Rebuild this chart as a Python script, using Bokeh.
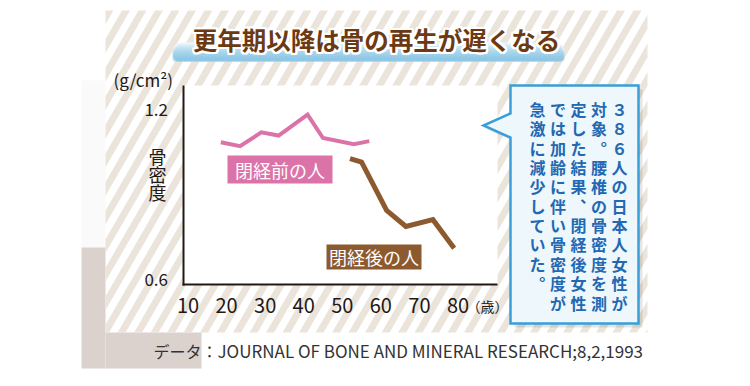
import numpy as np
from bokeh.plotting import figure
from bokeh.models import Range1d, LinearAxis, FixedTicker
from bokeh.core.properties import value
from bokeh.embed import file_html
from bokeh.resources import INLINE

# ---------------- data ----------------
ages_pre = [18.5, 23.5, 29, 33.5, 41, 45, 53, 57]
bmd_pre = [1.085, 1.071, 1.120, 1.109, 1.183, 1.100, 1.078, 1.089]
ages_post = [52, 55, 61.5, 66.5, 73.5, 79]
bmd_post = [1.027, 1.015, 0.844, 0.787, 0.811, 0.710]
x_ticks = [10, 20, 30, 40, 50, 60, 70, 80]
y_ticks = [0.6, 1.2]
title_text = "更年期以降は骨の再生が遅くなる"
unit_text = "(g/cm²)"
ylabel_chars = ["骨", "密", "度"]
xunit_text = "（歳）"
label_pre = "閉経前の人"
label_post = "閉経後の人"
note_columns = [
    "３８６人の日本人女性が",
    "対象︒腰椎の骨密度を測",
    "定した結果︑閉経後女性",
    "では加齢に伴い骨密度が",
    "急激に減少していた︒",
]
source_head = "データ："
source_body = "JOURNAL OF BONE AND MINERAL RESEARCH;8,2,1993"

# ---------------- styles ----------------
CJK = "Noto Sans CJK JP"
PINK = "#dc73a8"
BROWN = "#8c5a2e"
TITLE_BROWN = "#6b3a12"
INK = "#231815"
BLUE_LINE = "#3a9fd9"
BLUE_TEXT = "#2268b2"
STRIPE = "#ebe4da"

W, H = 750, 386
OX, OY = 0, 0
X10, XPER = 187.5, 3.857          # page x of age 10, px per year
Y12, YPER = 109.3, 169.5 / 0.6    # page y of 1.2, px per g/cm2


def age_at(px):
    return 10 + (px - X10) / XPER


def bmd_at(py):
    return 1.2 - (py - Y12) / YPER


p = figure(width=W, height=H, output_backend="svg", toolbar_location=None,
           x_range=Range1d(age_at(OX), age_at(OX + W)),
           y_range=Range1d(bmd_at(OY + H), bmd_at(OY)),
           x_axis_location=None, y_axis_location=None,
           min_border=0, outline_line_color=None,
           background_fill_color="white", border_fill_color="white")
p.grid.visible = False
p.extra_x_ranges = {"px": Range1d(OX, OX + W)}
p.extra_y_ranges = {"px": Range1d(OY + H, OY)}
PX = dict(x_range_name="px", y_range_name="px")

# ---------------- background ----------------
p.quad(left=[81], right=[105], top=[80], bottom=[247], fill_color="#fafafa", line_color=None, **PX)
p.quad(left=[81, 105], right=[105, 201], top=[247, 332], bottom=[368, 368],
       fill_color="#dbd2ce", line_color=None, **PX)

# diagonal stripes in the panel
PL, PR, PT, PB = 105, 647, 10, 332
c = 1 / np.tan(np.radians(60))
period, sw = 16.5, 8.0


def clip_poly(poly, inside, inter):
    out = []
    for i in range(len(poly)):
        cur, prev = poly[i], poly[i - 1]
        if inside(cur):
            if not inside(prev):
                out.append(inter(prev, cur))
            out.append(cur)
        elif inside(prev):
            out.append(inter(prev, cur))
    return out


def ix(a, b, xc):
    t = (xc - a[0]) / (b[0] - a[0])
    return (xc, a[1] + t * (b[1] - a[1]))


sx, sy = [], []
u = PL + PT * c - period
while u < PR + PB * c + period:
    poly = [(u - PT * c, PT), (u + sw - PT * c, PT), (u + sw - PB * c, PB), (u - PB * c, PB)]
    poly = clip_poly(poly, lambda q: q[0] >= PL, lambda a, b: ix(a, b, PL))
    if poly:
        poly = clip_poly(poly, lambda q: q[0] <= PR, lambda a, b: ix(a, b, PR))
    if len(poly) >= 3:
        sx.append([q[0] for q in poly])
        sy.append([q[1] for q in poly])
    u += period
p.patches(sx, sy, fill_color=STRIPE, line_color=None, **PX)

# white plot area
p.quad(left=[182], right=[497], top=[85], bottom=[284], fill_color="white", line_color=None, **PX)

# ---------------- title ----------------
p.quad(left=[172], right=[564], top=[42], bottom=[61], fill_color="white", line_color=None,
       border_radius=9, **PX)
for i in range(10):
    p.quad(left=[172], right=[564], top=[42 + i * 1.7], bottom=[61], fill_color="#6cb9e3",
           fill_alpha=0.13, line_color=None, border_radius=9, **PX)
tx = 376
ty = 39
angles = np.linspace(0, 2 * np.pi, 16, endpoint=False)
p.text(x=[tx] * 16, y=[ty] * 16, text=[title_text] * 16,
       x_offset=list(2.3 * np.cos(angles)), y_offset=list(2.3 * np.sin(angles)),
       text_font=value(CJK), text_font_size="24.5px", text_font_style="bold",
       text_color="white", text_align="center", text_baseline="middle", **PX)
p.text(x=[tx], y=[ty], text=[title_text], text_font=value(CJK), text_font_size="24.5px",
       text_font_style="bold", text_color=TITLE_BROWN, text_align="center",
       text_baseline="middle", **PX)

# ---------------- axes ----------------
xaxis = LinearAxis(fixed_location=bmd_at(283.5), bounds=(age_at(181.5), age_at(497)),
                   ticker=FixedTicker(ticks=x_ticks))
xaxis.axis_line_width = 2
xaxis.axis_line_color = INK
xaxis.major_tick_line_color = None
xaxis.minor_tick_line_color = None
xaxis.major_label_text_font = CJK
xaxis.major_label_text_font_size = "20px"
xaxis.major_label_text_color = INK
xaxis.major_label_standoff = 8
p.add_layout(xaxis, "below")

yaxis = LinearAxis(fixed_location=age_at(182.5), bounds=(bmd_at(284.5), bmd_at(85)),
                   ticker=FixedTicker(ticks=y_ticks))
yaxis.axis_line_width = 2
yaxis.axis_line_color = INK
yaxis.major_tick_line_color = None
yaxis.minor_tick_line_color = None
yaxis.major_label_text_font = CJK
yaxis.major_label_text_font_size = "17px"
yaxis.major_label_text_color = INK
yaxis.major_label_standoff = 9
p.add_layout(yaxis, "left")

p.text(x=[113], y=[79], text=[unit_text], text_font=value(CJK), text_font_size="17px",
       text_color=INK, text_align="left", text_baseline="middle", **PX)
p.text(x=[157] * 3, y=[155, 173, 191], text=ylabel_chars, text_font=value(CJK),
       text_font_size="18px", text_color=INK, text_align="center", text_baseline="middle", **PX)
p.text(x=[466], y=[305], text=[xunit_text], text_font=value(CJK), text_font_size="14px",
       text_color=INK, text_align="left", text_baseline="middle", **PX)

# ---------------- data lines ----------------
p.line(ages_pre, bmd_pre, line_color=PINK, line_width=4, line_join="miter")
p.line(ages_post, bmd_post, line_color=BROWN, line_width=5, line_join="miter")

# series labels
p.quad(left=[227], right=[332], top=[155], bottom=[183], fill_color=PINK, line_color=None, **PX)
p.text(x=[279.5], y=[169], text=[label_pre], text_font=value(CJK), text_font_size="18px",
       text_color="white", text_align="center", text_baseline="middle", **PX)
p.quad(left=[326], right=[421], top=[244], bottom=[269], fill_color=BROWN, line_color=None, **PX)
p.text(x=[373.5], y=[256.5], text=[label_post], text_font=value(CJK), text_font_size="18px",
       text_color="white", text_align="center", text_baseline="middle", **PX)

# ---------------- callout ----------------
cx = [510, 638, 638, 510, 510, 483, 510]
cy = [85, 85, 323, 323, 137, 125, 113]
p.patch([v + 4 for v in cx], [v + 4 for v in cy], fill_color="black", fill_alpha=0.10,
        line_color=None, **PX)
p.patch(cx, cy, fill_color="#eef7fc", line_color=BLUE_LINE, line_width=2.5, line_join="miter", **PX)
col_x = [619, 598.5, 578, 557.5, 537]
nx, ny, nt = [], [], []
for xc, col in zip(col_x, note_columns):
    for j, ch in enumerate(col):
        nx.append(xc)
        ny.append(108.5 + j * 19.35)
        nt.append(ch)
p.text(x=nx, y=ny, text=nt, text_font=value(CJK), text_font_size="16px", text_font_style="bold",
       text_color=BLUE_TEXT, text_align="center", text_baseline="middle", **PX)

# ---------------- source ----------------
p.text(x=[153], y=[350], text=[source_head], text_font=value(CJK), text_font_size="16px",
       text_color="#333333", text_align="left", text_baseline="middle", **PX)
p.text(x=[217], y=[350], text=[source_body], text_font=value(CJK),
       text_font_size="17px", text_color="#333333", text_align="left", text_baseline="middle", **PX)

open("out.html", "w").write(file_html(p, INLINE))
